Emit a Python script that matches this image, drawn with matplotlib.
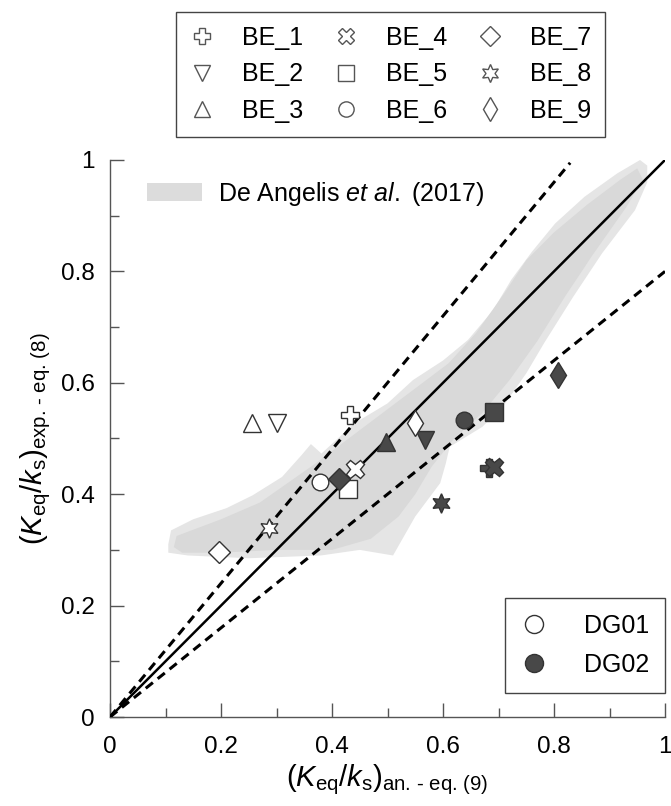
import numpy as np
import matplotlib
matplotlib.use('Agg')
import matplotlib.pyplot as plt
from matplotlib.lines import Line2D
from matplotlib.patches import Polygon, Patch
from matplotlib.ticker import MultipleLocator, FuncFormatter

plt.rcParams['font.family'] = ['Liberation Sans', 'DejaVu Sans']
plt.rcParams['mathtext.fontset'] = 'custom'
plt.rcParams['mathtext.rm'] = 'Liberation Sans'
plt.rcParams['mathtext.it'] = 'Liberation Sans:italic'

# tests BE_1 .. BE_9, x = analytical eq.(9), y = experimental eq.(8)
names = ['BE_1', 'BE_2', 'BE_3', 'BE_4', 'BE_5', 'BE_6', 'BE_7', 'BE_8', 'BE_9']
dg01_x = [0.433, 0.300, 0.256, 0.441, 0.428, 0.379, 0.197, 0.287, 0.550]
dg01_y = [0.542, 0.528, 0.528, 0.446, 0.410, 0.422, 0.296, 0.339, 0.527]
dg02_x = [0.683, 0.568, 0.497, 0.691, 0.692, 0.638, 0.412, 0.597, 0.807]
dg02_y = [0.447, 0.497, 0.494, 0.449, 0.548, 0.533, 0.427, 0.384, 0.614]

# reference lines y = k*x
line_k = [1.0, 1.2, 0.8]

# De Angelis et al. (2017) band (outer light / inner darker)
band_outer_x = [0.105, 0.11, 0.15, 0.21, 0.257, 0.31, 0.345, 0.362, 0.381, 0.44, 0.50, 0.546,
                0.60, 0.645, 0.69, 0.723, 0.76, 0.802, 0.855, 0.914, 0.955, 0.968, 0.968, 0.946,
                0.887, 0.835, 0.782, 0.75, 0.71, 0.671, 0.612, 0.605, 0.595, 0.55, 0.51, 0.45,
                0.38, 0.25, 0.14, 0.105]
band_outer_y = [0.31, 0.335, 0.355, 0.375, 0.398, 0.431, 0.47, 0.49, 0.473, 0.527, 0.563, 0.605,
                0.64, 0.677, 0.73, 0.785, 0.835, 0.886, 0.934, 0.976, 1.0, 0.99, 0.96, 0.91,
                0.833, 0.755, 0.671, 0.617, 0.56, 0.521, 0.485, 0.455, 0.42, 0.36, 0.29, 0.30,
                0.29, 0.285, 0.29, 0.295]
band_inner_x = [0.115, 0.12, 0.2, 0.27, 0.32, 0.37, 0.43, 0.49, 0.55, 0.61, 0.66, 0.71, 0.75,
                0.80, 0.86, 0.92, 0.95, 0.96, 0.93, 0.87, 0.82, 0.77, 0.72, 0.67, 0.62, 0.58,
                0.55, 0.52, 0.47, 0.40, 0.30, 0.20, 0.13]
band_inner_y = [0.305, 0.325, 0.355, 0.385, 0.42, 0.455, 0.50, 0.545, 0.59, 0.635, 0.69, 0.76,
                0.82, 0.87, 0.92, 0.965, 0.985, 0.965, 0.915, 0.83, 0.755, 0.675, 0.605, 0.545,
                0.50, 0.45, 0.40, 0.36, 0.32, 0.30, 0.30, 0.295, 0.295]

markers = ['P', 'v', '^', 'X', 's', 'o', 'D', (6, 1, 0), 'd']
msize = [13, 13, 13, 13, 13, 12, 11, 14, 13]
dark = '#484848'
edge = '#333333'

fig = plt.figure(figsize=(6.71, 8.06), dpi=100)
ax = fig.add_axes([110/671, 1-717/806, 555/671, 557/806])

ax.add_patch(Polygon(np.column_stack([band_outer_x, band_outer_y]), closed=True,
                     fc='#e5e5e5', ec='none', zorder=1))
ax.add_patch(Polygon(np.column_stack([band_inner_x, band_inner_y]), closed=True,
                     fc='#d9d9d9', ec='none', zorder=1))

xx = np.linspace(0, 1, 200)
for i, k in enumerate(line_k):
    yy = k * xx
    m = yy <= 1.0
    if i == 0:
        ax.plot(xx[m], yy[m], color='black', lw=1.8, zorder=3)
    else:
        ax.plot(xx[m], yy[m], color='black', lw=2.2, ls=(0, (3, 2)), zorder=3)

for i in range(len(names)):
    ax.plot(dg01_x[i], dg01_y[i], ls='none', marker=markers[i], ms=msize[i],
            mfc='white', mec=edge, mew=1.0, zorder=5)
    ax.plot(dg02_x[i], dg02_y[i], ls='none', marker=markers[i], ms=msize[i],
            mfc=dark, mec=edge, mew=1.0, zorder=5)

ax.set_xlim(0, 1)
ax.set_ylim(0, 1)
for s in ['top', 'right']:
    ax.spines[s].set_visible(False)
for s in ['left', 'bottom']:
    ax.spines[s].set_color('#555555')
    ax.spines[s].set_linewidth(1.0)
ax.xaxis.set_major_locator(MultipleLocator(0.2))
ax.xaxis.set_minor_locator(MultipleLocator(0.1))
ax.yaxis.set_major_locator(MultipleLocator(0.2))
ax.yaxis.set_minor_locator(MultipleLocator(0.1))
fmt = FuncFormatter(lambda v, p: '%g' % round(v, 2))
ax.xaxis.set_major_formatter(fmt)
ax.yaxis.set_major_formatter(fmt)
ax.tick_params(which='major', direction='in', length=10, width=1, color='#555555',
               labelsize=17.5)
ax.tick_params(which='minor', direction='in', length=6.5, width=1, color='#555555')
ax.tick_params(axis='x', which='major', pad=14)
ax.tick_params(axis='y', which='major', pad=11)

ax.set_xlabel(r'$(K_{\mathrm{eq}}/k_{\mathrm{s}})_{\text{an. - eq. (9)}}$', fontsize=21,
              labelpad=3)
ax.set_ylabel(r'$(K_{\mathrm{eq}}/k_{\mathrm{s}})_{\text{exp. - eq. (8)}}$', fontsize=21,
              labelpad=6)

# De Angelis legend
leg_band = ax.legend([Patch(fc='#dcdcdc', ec='none')],
                     [r'De Angelis $\it{et\ al.}$ (2017)'],
                     loc='upper left', bbox_to_anchor=(0.03, 1.0), frameon=False,
                     fontsize=18, handlelength=2.2, handleheight=0.75, handletextpad=0.65,
                     borderpad=0.3)
ax.add_artist(leg_band)

# DG01 / DG02 legend
dg_handles = [Line2D([], [], ls='none', marker='o', ms=13, mfc='white', mec=edge, mew=1.0),
              Line2D([], [], ls='none', marker='o', ms=13, mfc=dark, mec=edge, mew=1.0)]
leg_dg = ax.legend(dg_handles, ['DG01', 'DG02'], loc='lower right',
                   bbox_to_anchor=(1.0, 0.043), borderaxespad=0, fontsize=18,
                   fancybox=False, edgecolor='#444444', framealpha=1, handlelength=1.0,
                   handletextpad=1.5, labelspacing=0.6, borderpad=0.65)
leg_dg.get_frame().set_linewidth(1.0)

# BE legend above the axes
be_handles = [Line2D([], [], ls='none', marker=markers[i], ms=msize[i] - 1, mfc='white',
                     mec='#555555', mew=1.0) for i in range(len(names))]
leg_be = fig.legend(be_handles, names, loc='upper center', bbox_to_anchor=(0.582, 0.985),
                    borderaxespad=0, ncol=3, fontsize=18, fancybox=False,
                    edgecolor='#444444', framealpha=1, handlelength=1.0, handletextpad=1.1,
                    columnspacing=1.2, labelspacing=0.5, borderpad=0.55)
leg_be.get_frame().set_linewidth(1.0)

fig.savefig('out.png', dpi=100)
